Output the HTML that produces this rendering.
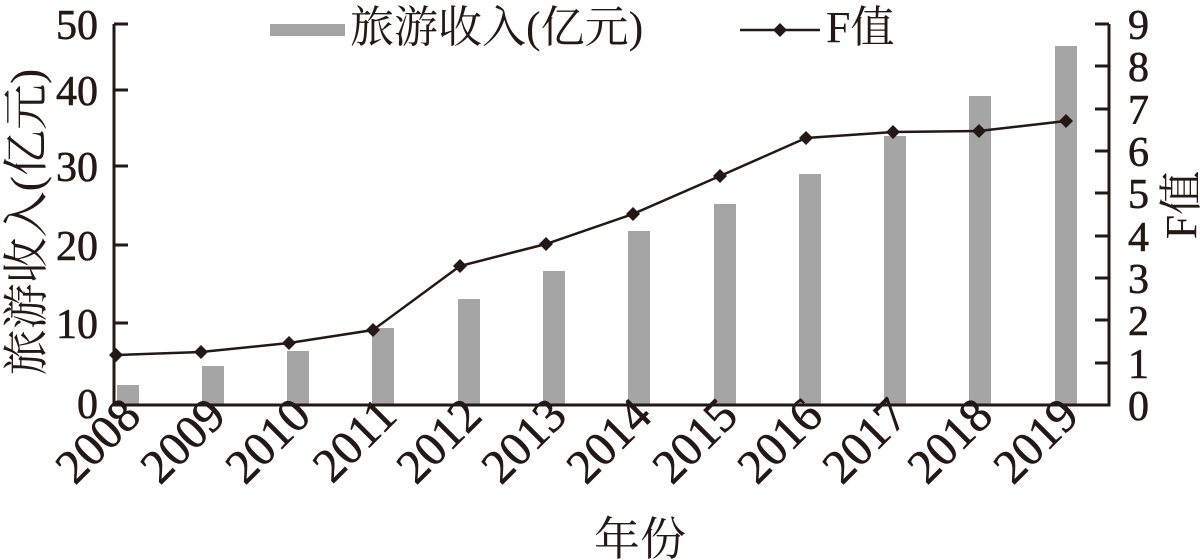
<!DOCTYPE html>
<html><head><meta charset="utf-8"><style>body{margin:0;background:#fff}svg{display:block}</style></head>
<body>
<svg width="1200" height="560" xmlns="http://www.w3.org/2000/svg" font-family="Liberation Serif, Noto Serif CJK SC, serif" fill="#231815">
<g fill="#a5a5a5">
<rect x="117" y="385" width="22" height="20"/>
<rect x="202" y="366" width="22" height="39"/>
<rect x="287" y="351" width="22" height="54"/>
<rect x="372" y="328" width="22" height="77"/>
<rect x="458" y="299" width="22" height="106"/>
<rect x="543" y="271" width="22" height="134"/>
<rect x="628" y="231" width="22" height="174"/>
<rect x="714" y="204" width="22" height="201"/>
<rect x="799" y="174" width="22" height="231"/>
<rect x="884" y="136" width="22" height="269"/>
<rect x="969" y="96" width="22" height="309"/>
<rect x="1055" y="46" width="22" height="359"/>
</g>
<g stroke="#231815" stroke-width="3" fill="none">
<path d="M114 24 V405 H1109 V24"/>
<path d="M114 24h14M114 90h14M114 166h14M114 245h14M114 323h14"/>
<path d="M1109 24h-14M1109 66h-14M1109 109h-14M1109 151h-14M1109 193h-14M1109 236h-14M1109 278h-14M1109 320h-14M1109 363h-14"/>
</g>
<polyline fill="none" stroke="#231815" stroke-width="2.5" points="116,355 201,352 289,343 373,330 460,266 546,244 633,214 720,176 806,138 893,132 979,131 1066,121"/>
<g>
<path d="M116 348l7 7-7 7-7-7z"/><path d="M201 345l7 7-7 7-7-7z"/><path d="M289 336l7 7-7 7-7-7z"/><path d="M373 323l7 7-7 7-7-7z"/><path d="M460 259l7 7-7 7-7-7z"/><path d="M546 237l7 7-7 7-7-7z"/><path d="M633 207l7 7-7 7-7-7z"/><path d="M720 169l7 7-7 7-7-7z"/><path d="M806 131l7 7-7 7-7-7z"/><path d="M893 125l7 7-7 7-7-7z"/><path d="M979 124l7 7-7 7-7-7z"/><path d="M1066 114l7 7-7 7-7-7z"/>
</g>
<g font-size="42" text-anchor="end" stroke="#231815" stroke-width="0.6">
<text x="98" y="39">50</text><text x="98" y="105">40</text><text x="98" y="181">30</text><text x="98" y="260">20</text><text x="98" y="338">10</text><text x="98" y="418">0</text>
</g>
<g font-size="42" stroke="#231815" stroke-width="0.6">
<text x="1128" y="39">9</text><text x="1128" y="81">8</text><text x="1128" y="124">7</text><text x="1128" y="166">6</text><text x="1128" y="208">5</text><text x="1128" y="251">4</text><text x="1128" y="293">3</text><text x="1128" y="335">2</text><text x="1128" y="378">1</text><text x="1128" y="420">0</text>
</g>
<g font-size="48" text-anchor="end" stroke="#231815" stroke-width="0.6">
<text transform="translate(143,418) rotate(-45)">2008</text>
<text transform="translate(228,418) rotate(-45)">2009</text>
<text transform="translate(313,418) rotate(-45)">2010</text>
<text transform="translate(399,418) rotate(-45)">2011</text>
<text transform="translate(484,418) rotate(-45)">2012</text>
<text transform="translate(569,418) rotate(-45)">2013</text>
<text transform="translate(654,418) rotate(-45)">2014</text>
<text transform="translate(740,418) rotate(-45)">2015</text>
<text transform="translate(825,418) rotate(-45)">2016</text>
<text transform="translate(910,418) rotate(-45)">2017</text>
<text transform="translate(995,418) rotate(-45)">2018</text>
<text transform="translate(1081,418) rotate(-45)">2019</text>
</g>
<text x="640" y="555" font-size="46" text-anchor="middle">年份</text>
<text transform="translate(42,222) rotate(-90)" font-size="46" text-anchor="middle">旅游收入(亿元)</text>
<text transform="translate(1196,205) rotate(-90)" font-size="44" text-anchor="middle">F值</text>
<rect x="270" y="24" width="75" height="12" fill="#a5a5a5"/>
<text x="350" y="42" font-size="44">旅游收入(亿元)</text>
<line x1="740" y1="30" x2="820" y2="30" stroke="#231815" stroke-width="2.5"/>
<path d="M780 23l7 7-7 7-7-7z"/>
<text x="826" y="42" font-size="44">F值</text>
</svg>
</body></html>
